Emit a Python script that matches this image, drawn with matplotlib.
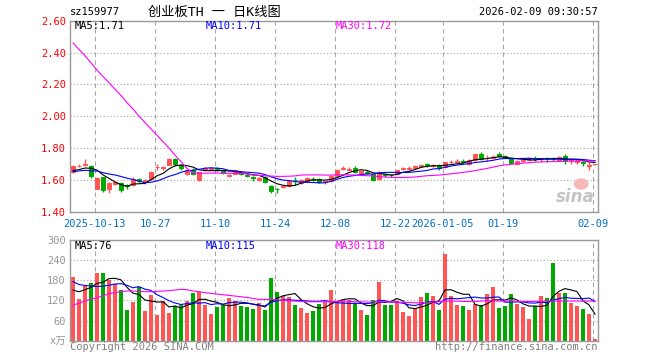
"""
plot.py
-------
Sina-style daily K-line chart for sz159977 (创业板TH): candles + MA lines on top,
volume bars + volume MA lines below.
"""

import matplotlib
matplotlib.use("Agg")
import matplotlib.pyplot as plt
from matplotlib.patches import Ellipse
import numpy as np
import pandas as pd

# ------------------------------------------------------------------ #
#  Data
# ------------------------------------------------------------------ #

code_label = "sz159977"
title_label = "创业板TH 一 日K线图"
stamp_label = "2026-02-09 09:30:57"

opens = [
    1.650, 1.685, 1.695, 1.685, 1.545, 1.615, 1.542, 1.573, 1.578, 1.565,
    1.565, 1.605, 1.585, 1.605, 1.678, 1.675, 1.695, 1.730, 1.695, 1.635,
    1.665, 1.600, 1.663, 1.668, 1.672, 1.660, 1.622, 1.640, 1.645, 1.632,
    1.615, 1.600, 1.620, 1.562, 1.545, 1.555, 1.560, 1.600, 1.580, 1.592,
    1.605, 1.605, 1.585, 1.592, 1.625, 1.670, 1.665, 1.675, 1.645, 1.650,
    1.637, 1.608, 1.635, 1.632, 1.638, 1.668, 1.670, 1.672, 1.690, 1.700,
    1.688, 1.695, 1.680, 1.710, 1.715, 1.720, 1.700, 1.725, 1.765, 1.735,
    1.740, 1.765, 1.750, 1.735, 1.700, 1.720, 1.727, 1.740, 1.728, 1.735,
    1.735, 1.725, 1.750, 1.718, 1.715, 1.712, 1.690, 1.698,
]
highs = [
    1.692, 1.700, 1.730, 1.692, 1.615, 1.620, 1.585, 1.595, 1.585, 1.575,
    1.615, 1.612, 1.605, 1.655, 1.700, 1.690, 1.740, 1.738, 1.700, 1.668,
    1.672, 1.652, 1.678, 1.683, 1.678, 1.665, 1.640, 1.665, 1.650, 1.635,
    1.625, 1.618, 1.625, 1.570, 1.550, 1.570, 1.600, 1.617, 1.608, 1.615,
    1.615, 1.610, 1.600, 1.630, 1.670, 1.685, 1.680, 1.690, 1.665, 1.660,
    1.640, 1.655, 1.640, 1.640, 1.665, 1.680, 1.685, 1.695, 1.702, 1.705,
    1.700, 1.700, 1.715, 1.722, 1.732, 1.730, 1.730, 1.765, 1.775, 1.755,
    1.755, 1.775, 1.758, 1.740, 1.725, 1.730, 1.745, 1.748, 1.740, 1.745,
    1.745, 1.750, 1.760, 1.735, 1.730, 1.720, 1.710, 1.702,
]
lows = [
    1.645, 1.680, 1.685, 1.612, 1.540, 1.525, 1.520, 1.565, 1.525, 1.545,
    1.560, 1.580, 1.572, 1.600, 1.660, 1.665, 1.693, 1.685, 1.665, 1.630,
    1.628, 1.596, 1.655, 1.660, 1.655, 1.640, 1.615, 1.635, 1.630, 1.615,
    1.595, 1.595, 1.578, 1.520, 1.515, 1.550, 1.555, 1.565, 1.575, 1.585,
    1.595, 1.580, 1.575, 1.588, 1.620, 1.660, 1.660, 1.645, 1.640, 1.635,
    1.595, 1.600, 1.620, 1.620, 1.635, 1.660, 1.665, 1.668, 1.682, 1.680,
    1.678, 1.665, 1.676, 1.700, 1.710, 1.705, 1.695, 1.720, 1.725, 1.720,
    1.735, 1.745, 1.735, 1.700, 1.695, 1.715, 1.720, 1.720, 1.710, 1.715,
    1.720, 1.720, 1.700, 1.698, 1.700, 1.690, 1.665, 1.696,
]
closes = [
    1.687, 1.690, 1.700, 1.622, 1.610, 1.535, 1.580, 1.588, 1.535, 1.560,
    1.605, 1.590, 1.600, 1.650, 1.683, 1.680, 1.732, 1.697, 1.675, 1.662,
    1.635, 1.648, 1.672, 1.673, 1.660, 1.645, 1.628, 1.660, 1.635, 1.625,
    1.610, 1.612, 1.585, 1.532, 1.540, 1.560, 1.595, 1.598, 1.602, 1.610,
    1.600, 1.585, 1.595, 1.625, 1.665, 1.675, 1.670, 1.650, 1.658, 1.645,
    1.600, 1.650, 1.630, 1.628, 1.660, 1.672, 1.675, 1.690, 1.695, 1.692,
    1.692, 1.672, 1.710, 1.712, 1.720, 1.715, 1.725, 1.760, 1.730, 1.740,
    1.745, 1.750, 1.745, 1.705, 1.720, 1.725, 1.738, 1.732, 1.735, 1.730,
    1.730, 1.745, 1.718, 1.725, 1.722, 1.705, 1.695, 1.700,
]
volumes = [
    189, 124, 166, 173, 203, 203, 180, 170, 151, 91,
    116, 159, 89, 136, 76, 119, 83, 103, 106, 119,
    141, 145, 106, 79, 101, 106, 128, 119, 103, 101,
    95, 113, 91, 186, 146, 133, 131, 106, 98, 83,
    89, 109, 116, 151, 116, 121, 121, 113, 91, 76,
    121, 176, 106, 106, 119, 86, 73, 94, 131, 143,
    133, 91, 259, 133, 106, 103, 91, 109, 106, 139,
    159, 97, 103, 139, 109, 101, 64, 103, 133, 127,
    232, 141, 143, 113, 103, 94, 81, 4,
]

# sessions before the first visible bar, needed to start MA5 / MA10
prev_closes = [1.640, 1.660, 1.650, 1.630, 1.640, 1.660, 1.650, 1.630, 1.665]
prev_volumes = [210, 195, 190, 215, 195, 150, 135, 140, 141]

# MA30 lines as drawn (their window reaches far before the visible range)
price_ma30 = [
    2.460, 2.420, 2.380, 2.335, 2.290, 2.250, 2.210, 2.170, 2.130, 2.085,
    2.045, 2.000, 1.960, 1.920, 1.880, 1.840, 1.800, 1.755, 1.715, 1.672,
    1.642, 1.642, 1.642, 1.643, 1.643, 1.642, 1.641, 1.641, 1.640, 1.638,
    1.630, 1.628, 1.626, 1.624, 1.622, 1.622, 1.623, 1.625, 1.630, 1.631,
    1.631, 1.631, 1.630, 1.630, 1.631, 1.632, 1.631, 1.630, 1.628, 1.626,
    1.625, 1.620, 1.618, 1.616, 1.615, 1.615, 1.616, 1.618, 1.622, 1.626,
    1.628, 1.630, 1.634, 1.638, 1.642, 1.647, 1.652, 1.658, 1.665, 1.672,
    1.680, 1.688, 1.694, 1.698, 1.702, 1.705, 1.708, 1.711, 1.713, 1.714,
    1.715, 1.716, 1.717, 1.718, 1.718, 1.719, 1.719, 1.720,
]
volume_ma30 = [
    106, 112, 118, 124, 128, 134, 140, 143, 146, 148,
    148, 147, 146, 146, 147, 148, 149, 151, 153, 152,
    148, 146, 143, 141, 139, 137, 135, 133, 131, 129,
    126, 123, 123, 123, 122, 120, 119, 118, 117, 116,
    116, 116, 116, 116, 117, 118, 117, 116, 116, 115,
    115, 116, 116, 116, 115, 114, 114, 113, 113, 114,
    115, 116, 118, 118, 118, 117, 117, 117, 118, 119,
    119, 118, 118, 118, 117, 117, 117, 117, 117, 118,
    118, 118, 118, 118, 118, 118, 118, 118,
]

tick_idx = [4, 14, 24, 34, 44, 54, 62, 72, 87]
tick_labels = ["2025-10-13", "10-27", "11-10", "11-24", "12-08",
               "12-22", "2026-01-05", "01-19", "02-09"]

price_ticks = [1.40, 1.60, 1.80, 2.00, 2.20, 2.40, 2.60]
volume_ticks = [0, 60, 120, 180, 240, 300]
volume_tick_labels = ["x万", "60", "120", "180", "240", "300"]

price_ma_labels = ["MA5:1.71", "MA10:1.71", "MA30:1.72"]
volume_ma_labels = ["MA5:76", "MA10:115", "MA30:118"]

# ------------------------------------------------------------------ #
#  Style
# ------------------------------------------------------------------ #

RED = "#ff5555"
GREEN = "#00a800"
MA_COLORS = ["#000000", "#0000ff", "#ff00ff"]
FRAME = "#999999"
GRID = "#a8a8a8"
FONT = ["DejaVu Sans Mono", "Noto Sans CJK SC"]

W, H = 660, 360
LEFT, RIGHT = 70, 598


def moving_average(values, prev, n):
    s = pd.Series(list(prev) + list(values), dtype=float)
    return s.rolling(n).mean().to_numpy()[len(prev):]


def style_panel(ax, ticks, labels, label_color, ylim):
    ax.set_xlim(-0.5, len(closes) - 0.5)
    ax.set_ylim(*ylim)
    ax.set_yticks(ticks)
    ax.set_yticklabels(labels)
    for lbl in ax.get_yticklabels():
        lbl.set_family(FONT)
        lbl.set_fontsize(7.5)
        lbl.set_color(label_color)
    ax.tick_params(axis="both", length=0, pad=3)
    for spine in ax.spines.values():
        spine.set_color(FRAME)
        spine.set_linewidth(1.0)
    for t in ticks[1:-1]:
        ax.axhline(t, color=GRID, linewidth=0.8, linestyle=(0, (1, 2)), zorder=0)
    for i in tick_idx:
        ax.axvline(i - 0.35, color=GRID, linewidth=0.8, linestyle=(0, (4, 3)), zorder=0)


def ma_legend(ax, texts, y):
    xs = [75, 206, 336]
    for x, txt, col in zip(xs, texts, MA_COLORS):
        ax.text(x / W, y, txt, transform=ax.figure.transFigure, color=col,
                fontsize=7.5, family=FONT, ha="left", va="center")


# ------------------------------------------------------------------ #
#  Figure
# ------------------------------------------------------------------ #

fig = plt.figure(figsize=(W / 100, H / 100), dpi=100)
fig.patch.set_facecolor("white")

ax_p = fig.add_axes([LEFT / W, 1 - 211.7 / H, (RIGHT - LEFT) / W, 191 / H])
ax_v = fig.add_axes([LEFT / W, 1 - 340.7 / H, (RIGHT - LEFT) / W, 100.7 / H])

x = np.arange(len(closes))
o, h, l, c = map(np.array, (opens, highs, lows, closes))
colors = [RED if cc >= oo else GREEN for oo, cc in zip(o, c)]

# price panel
style_panel(ax_p, price_ticks, [f"{t:.2f}" for t in price_ticks], "#ff0000", (1.40, 2.60))
ax_p.vlines(x, l, h, colors=colors, linewidth=1.0, zorder=2)
ax_p.bar(x, np.abs(c - o), 0.78, np.minimum(o, c), color=colors,
         edgecolor=colors, linewidth=0.7, zorder=3)
ax_p.plot(x, moving_average(closes, prev_closes, 5), color=MA_COLORS[0], linewidth=0.8, zorder=4)
ax_p.plot(x, moving_average(closes, prev_closes, 10), color=MA_COLORS[1], linewidth=0.8, zorder=4)
ax_p.plot(x, price_ma30, color=MA_COLORS[2], linewidth=0.8, zorder=4)
ax_p.set_xticks(tick_idx - np.full(len(tick_idx), 0.35))
ax_p.set_xticklabels(tick_labels, family=FONT, fontsize=7.5, color="#0070c8")
ax_p.tick_params(axis="x", pad=5)

# sina watermark: pink eye + grey word
ax_p.add_patch(Ellipse((0.968, 0.145), 0.028, 0.06, transform=ax_p.transAxes,
                       facecolor="#f6b8b8", edgecolor="none", zorder=1))
ax_p.text(0.994, 0.03, "sina", transform=ax_p.transAxes, ha="right", va="bottom",
          fontsize=12, fontstyle="italic", fontweight="bold", color="#c4c4c4", zorder=1)

# volume panel
style_panel(ax_v, volume_ticks, volume_tick_labels, "#999999", (0, 300))
ax_v.bar(x, volumes, 0.82, color=colors, linewidth=0, zorder=2)
ax_v.plot(x, moving_average(volumes, prev_volumes, 5), color=MA_COLORS[0], linewidth=0.8, zorder=4)
ax_v.plot(x, moving_average(volumes, prev_volumes, 10), color=MA_COLORS[1], linewidth=0.8, zorder=4)
ax_v.plot(x, volume_ma30, color=MA_COLORS[2], linewidth=0.8, zorder=4)
ax_v.set_xticks([])

# header, legends, footer
fig.text(70 / W, 1 - 12 / H, code_label, family=FONT, fontsize=7.5, ha="left", va="center")
fig.text(148 / W, 1 - 12 / H, title_label, family=FONT, fontsize=9.5, ha="left", va="center")
fig.text(598 / W, 1 - 12 / H, stamp_label, family=FONT, fontsize=7.5, ha="right", va="center")
ma_legend(ax_p, price_ma_labels, 1 - 26 / H)
ma_legend(ax_v, volume_ma_labels, 1 - 246 / H)
fig.text(70 / W, 1 - 347 / H, "Copyright 2026 SINA.COM", family=FONT, fontsize=7.5,
         color="#808080", ha="left", va="center")
fig.text(598 / W, 1 - 347 / H, "http://finance.sina.com.cn", family=FONT, fontsize=7.5,
         color="#808080", ha="right", va="center")

fig.savefig("out.png", dpi=100, facecolor="white")
